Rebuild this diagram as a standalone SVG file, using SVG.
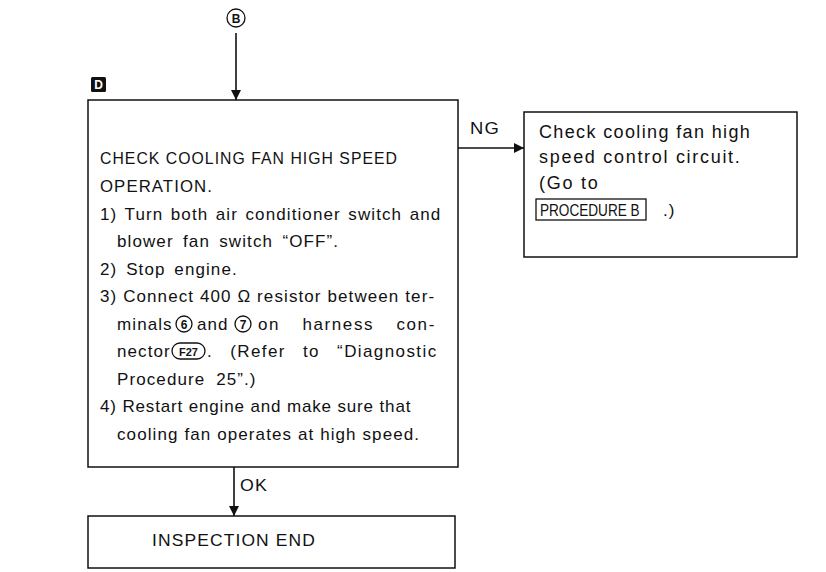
<svg xmlns="http://www.w3.org/2000/svg" width="826" height="572" viewBox="0 0 826 572">
<defs>
<style>
.t{font-family:"Liberation Sans",Arial,sans-serif;font-size:17px;fill:#111;letter-spacing:1.1px}
.r{font-family:"Liberation Sans",Arial,sans-serif;font-size:18px;fill:#111;letter-spacing:1.2px}
.box{fill:none;stroke:#111;stroke-width:1.5}
.ln{fill:none;stroke:#111;stroke-width:1.6}
.c{fill:none;stroke:#111;stroke-width:1.3}
.cn{font-family:"Liberation Sans",Arial,sans-serif;font-size:12px;font-weight:bold;fill:#111;text-anchor:middle}
</style>
<marker id="ah" viewBox="0 0 10 10" refX="10" refY="5" markerWidth="10" markerHeight="10" markerUnits="userSpaceOnUse" orient="auto">
<path d="M0,0 L10,5 L0,10 Z" fill="#111"/>
</marker>
</defs>
<rect width="826" height="572" fill="#fff"/>

<g id="start">
<circle cx="236" cy="18" r="9" class="c"/>
<text x="236" y="22.5" class="cn">B</text>
</g>

<g id="marker-D">
<rect x="91" y="77" width="15" height="15" rx="1.5" fill="#111"/>
<text x="98.5" y="89" class="cn" style="fill:#fff">D</text>
</g>

<g id="connectors">
<line x1="236" y1="33" x2="236" y2="100" class="ln" marker-end="url(#ah)"/>
<line x1="458" y1="148" x2="524" y2="148" class="ln" marker-end="url(#ah)"/>
<text x="470" y="134" class="t" textLength="30" lengthAdjust="spacingAndGlyphs">NG</text>
<line x1="234" y1="467" x2="234" y2="516" class="ln" marker-end="url(#ah)"/>
<text x="240" y="491" class="t" textLength="28" lengthAdjust="spacingAndGlyphs">OK</text>
</g>

<g id="check">
<rect x="88" y="100" width="370" height="367" class="box"/>
<text x="100" y="164" class="t" textLength="298" lengthAdjust="spacingAndGlyphs">CHECK COOLING FAN HIGH SPEED</text>
<text x="100" y="192" class="t" textLength="113" lengthAdjust="spacingAndGlyphs">OPERATION.</text>
<text x="100" y="220" class="t" word-spacing="1.7">1) Turn both air conditioner switch and</text>
<text x="117" y="247" class="t" word-spacing="3.5">blower fan switch “OFF”.</text>
<text x="100" y="275" class="t" word-spacing="3">2) Stop engine.</text>
<text x="100" y="302" class="t">3) Connect 400 Ω resistor between ter-</text>
<text x="117" y="330" class="t">minals</text>
<circle cx="184" cy="324" r="8" class="c"/>
<text x="184" y="328.5" class="cn">6</text>
<text x="197" y="330" class="t">and</text>
<circle cx="243" cy="324" r="8" class="c"/>
<text x="243" y="328.5" class="cn">7</text>
<text x="258" y="330" class="t" style="letter-spacing:1.6px" word-spacing="16">on harness con-</text>
<text x="117" y="357" class="t">nector</text>
<rect x="172" y="343" width="33" height="16" rx="8" class="c"/>
<text x="188.5" y="355.5" class="cn" style="font-size:11px">F27</text>
<text x="207" y="357" class="t" style="letter-spacing:1.4px" word-spacing="11">. (Refer to “Diagnostic</text>
<text x="117" y="385" class="t" word-spacing="5">Procedure 25”.)</text>
<text x="100" y="412" class="t" style="letter-spacing:0.85px">4) Restart engine and make sure that</text>
<text x="117" y="440" class="t">cooling fan operates at high speed.</text>
</g>

<g id="ng-box">
<rect x="524" y="112" width="273" height="145" class="box"/>
<text x="539" y="138" class="r" textLength="212">Check cooling fan high</text>
<text x="539" y="163" class="r" textLength="202">speed control circuit.</text>
<text x="539" y="189" class="r" textLength="60">(Go to</text>
<rect x="536" y="199" width="110" height="21" class="c"/>
<text transform="translate(540,216) scale(0.8,1)" class="t" style="letter-spacing:0">PROCEDURE B</text>
<text x="663" y="216" class="t">.)</text>
</g>

<g id="end">
<rect x="88" y="516" width="367" height="52" class="box"/>
<text x="152" y="546" class="t" textLength="164" lengthAdjust="spacingAndGlyphs">INSPECTION END</text>
</g>
</svg>
